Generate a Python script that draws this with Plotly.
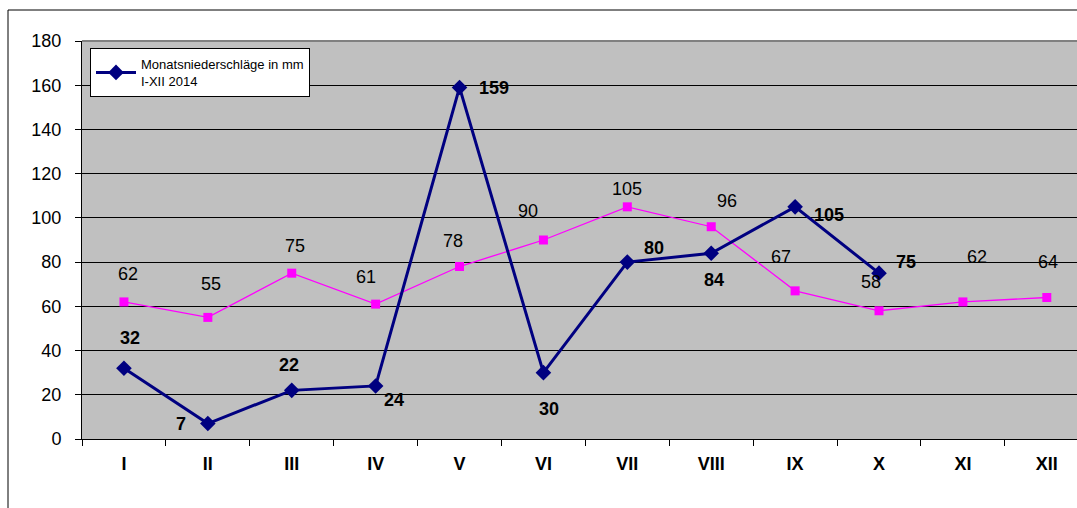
import plotly.graph_objects as go

months = ["I", "II", "III", "IV", "V", "VI", "VII", "VIII", "IX", "X", "XI", "XII"]
rain_2014 = [32, 7, 22, 24, 159, 30, 80, 84, 105, 75, None, None]
rain_mean = [62, 55, 75, 61, 78, 90, 105, 96, 67, 58, 62, 64]
y_ticks = [0, 20, 40, 60, 80, 100, 120, 140, 160, 180]

legend_name = "Monatsniederschläge in mm<br>I-XII 2014"

# label offsets in pixels (dx, dy up)
blue_off = [(6, 30), (-27, 0), (-3, 25), (18, -14), (34, -1), (6, -36),
            (27, 14), (3, -27), (34, -8), (27, 11), (0, 0), (0, 0)]
pink_off = [(4, 28), (3, 33), (3, 27), (-10, 27), (-7, 26), (-15, 29),
            (0, 18), (16, 26), (-14, 34), (-8, 29), (14, 45), (1, 35)]

FONT = "Liberation Sans, Arial, sans-serif"
W, H = 1077, 508
L, T, B = 82, 41, 69
PW = W - L
PH = H - T - B

fig = go.Figure()
fig.add_trace(go.Scatter(
    x=months, y=rain_mean, mode="lines+markers", showlegend=False,
    line=dict(color="#FF00FF", width=1.3),
    marker=dict(symbol="square", size=9, color="#FF00FF"),
))
fig.add_trace(go.Scatter(
    x=months, y=rain_2014, mode="lines+markers", name=legend_name,
    line=dict(color="#000080", width=3),
    marker=dict(symbol="diamond", size=12, color="#000080"),
))

annotations = []
for i, (m, v) in enumerate(zip(months, rain_mean)):
    dx, dy = pink_off[i]
    annotations.append(dict(x=m, y=v, xref="x", yref="y", text=str(v), showarrow=False,
                            xshift=dx, yshift=dy,
                            font=dict(family=FONT, size=18, color="black")))
for i, (m, v) in enumerate(zip(months, rain_2014)):
    if v is None:
        continue
    dx, dy = blue_off[i]
    annotations.append(dict(x=m, y=v, xref="x", yref="y", text="<b>%d</b>" % v, showarrow=False,
                            xshift=dx, yshift=dy,
                            font=dict(family=FONT, size=18, color="black")))

# outer chart frame
fx0 = (8 - L) / PW
fy1 = 1 + (T - 10) / PH
shapes = [
    dict(type="rect", xref="paper", yref="paper", x0=fx0, x1=1.5, y0=-0.5, y1=fy1,
         line=dict(color="black", width=1), fillcolor="rgba(0,0,0,0)", layer="below"),
    dict(type="line", xref="paper", yref="paper", x0=0, x1=1, y0=1, y1=1,
         line=dict(color="#808080", width=2)),
]

fig.update_layout(
    width=W, height=H,
    margin=dict(l=L, r=0, t=T, b=B, pad=0),
    paper_bgcolor="white",
    plot_bgcolor="#C0C0C0",
    font=dict(family=FONT, size=18, color="black"),
    showlegend=True,
    legend=dict(x=(90 - L) / PW, y=1 - (48 - T) / PH, xanchor="left", yanchor="top",
                bgcolor="white", bordercolor="black", borderwidth=1,
                font=dict(family=FONT, size=13, color="black"),
                itemwidth=40, tracegroupgap=0),
    annotations=annotations,
    shapes=shapes,
    xaxis=dict(
        type="category", range=[-0.5, 11.36],
        showgrid=False, zeroline=False,
        showline=True, linecolor="black", linewidth=1,
        ticks="outside", ticklen=6, tickcolor="black", tickson="boundaries",
        tickfont=dict(family=FONT, size=18, color="black", weight="bold"),
        ticklabelstandoff=8,
    ),
    yaxis=dict(
        range=[0, 180], tickvals=y_ticks,
        showgrid=True, gridcolor="black", gridwidth=1,
        zeroline=False,
        showline=True, linecolor="black", linewidth=1,
        ticks="outside", ticklen=6, tickcolor="black",
        tickfont=dict(family=FONT, size=18, color="black"),
        ticklabelstandoff=10,
    ),
)

fig.write_html("out.html", config={"displayModeBar": False},
               post_script="document.body.style.margin='0';document.body.style.overflow='hidden';")
